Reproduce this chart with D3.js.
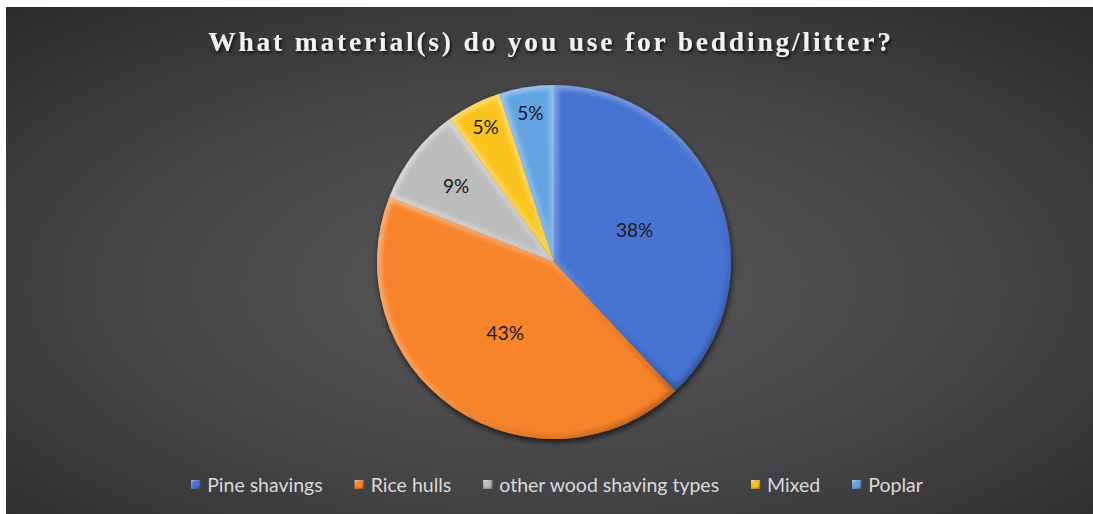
<!DOCTYPE html>
<html>
<head>
<meta charset="utf-8">
<script src="https://cdn.jsdelivr.net/npm/d3@7"></script>
<style>
  html, body { margin: 0; padding: 0; background: #ffffff; }
  svg { display: block; }
</style>
</head>
<body>
<svg id="chart" width="1093" height="514"></svg>
<script>
// Survey answers: share of respondents per bedding material (percent)
const categories = ["Pine shavings", "Rice hulls", "other wood shaving types", "Mixed", "Poplar"];
const shares = [38, 43, 9, 5, 5];
const sliceColors = ["#4673d3", "#f7832a", "#bcbcbc", "#f9c41a", "#62a3e2"];
const titleText = "What material(s) do you use for bedding/litter?";

const W = 1093, H = 514;
const svg = d3.select("#chart");
const defs = svg.append("defs");

// Panel background: dark radial gradient
const bg = defs.append("radialGradient").attr("id", "bgGrad")
  .attr("cx", "50%").attr("cy", "55%").attr("r", "75%");
bg.append("stop").attr("offset", "0%").attr("stop-color", "#59595b");
bg.append("stop").attr("offset", "55%").attr("stop-color", "#444446");
bg.append("stop").attr("offset", "100%").attr("stop-color", "#2a2a2d");

const panel = { x: 6, y: 7, w: W - 6, h: H - 7 };
svg.append("rect").attr("x", panel.x).attr("y", panel.y)
  .attr("width", panel.w).attr("height", panel.h).attr("fill", "url(#bgGrad)");

// Soft blur for the bevel edge strokes
defs.append("filter").attr("id", "edgeBlur")
  .attr("x", "-10%").attr("y", "-10%").attr("width", "120%").attr("height", "120%")
  .append("feGaussianBlur").attr("stdDeviation", 2.2);

// Soft drop shadow beneath the pie
const sh = defs.append("filter").attr("id", "pieShadow")
  .attr("x", "-20%").attr("y", "-20%").attr("width", "140%").attr("height", "140%");
sh.append("feGaussianBlur").attr("in", "SourceAlpha").attr("stdDeviation", 3).attr("result", "b");
sh.append("feOffset").attr("in", "b").attr("dx", 1).attr("dy", 3).attr("result", "o");
sh.append("feComponentTransfer").attr("in", "o").attr("result", "s")
  .append("feFuncA").attr("type", "linear").attr("slope", 0.7);
const shm = sh.append("feMerge");
shm.append("feMergeNode").attr("in", "s");
shm.append("feMergeNode").attr("in", "SourceGraphic");

// Title drop shadow
const tsh = defs.append("filter").attr("id", "titleShadow")
  .attr("x", "-5%").attr("y", "-40%").attr("width", "110%").attr("height", "180%");
tsh.append("feDropShadow").attr("dx", 1.5).attr("dy", 2).attr("stdDeviation", 1.4)
  .attr("flood-color", "#000").attr("flood-opacity", 0.75);

// Title
svg.append("text")
  .attr("x", 551).attr("y", 51)
  .attr("text-anchor", "middle")
  .attr("font-family", "'Liberation Serif', 'Times New Roman', serif")
  .attr("font-weight", "bold")
  .attr("font-size", 27.5)
  .attr("letter-spacing", 2.8)
  .attr("fill", "#f2f2f2")
  .attr("filter", "url(#titleShadow)")
  .text(titleText);

// Pie
const cx = 554, cy = 262, R = 177;
const color = d3.scaleOrdinal().domain(categories).range(sliceColors);
const pie = d3.pie().sort(null).value(d => d.value);
const data = categories.map((c, i) => ({ name: c, value: shares[i] }));
const arcs = pie(data);
const arc = d3.arc().innerRadius(0).outerRadius(R);

// Edge lighting: light from upper-left, shade toward lower-right
const eg = defs.append("linearGradient").attr("id", "edgeGrad")
  .attr("gradientUnits", "userSpaceOnUse")
  .attr("x1", -R).attr("y1", -R).attr("x2", R).attr("y2", R);
eg.append("stop").attr("offset", "0%").attr("stop-color", "#ffffff").attr("stop-opacity", 0.45);
eg.append("stop").attr("offset", "50%").attr("stop-color", "#ffffff").attr("stop-opacity", 0.18);
eg.append("stop").attr("offset", "75%").attr("stop-color", "#000000").attr("stop-opacity", 0.08);
eg.append("stop").attr("offset", "100%").attr("stop-color", "#000000").attr("stop-opacity", 0.45);

const pieG = svg.append("g").attr("transform", `translate(${cx},${cy})`);
const shadowG = pieG.append("g").attr("filter", "url(#pieShadow)");
const sliceG = shadowG.selectAll("g.slice")
  .data(arcs)
  .join("g")
  .attr("class", "slice");

sliceG.append("clipPath")
  .attr("id", (d, i) => "clip" + i)
  .append("path").attr("d", arc);
sliceG.append("path")
  .attr("d", arc)
  .attr("fill", d => color(d.data.name));
sliceG.append("path")
  .attr("d", arc)
  .attr("fill", "none")
  .attr("stroke", "url(#edgeGrad)")
  .attr("stroke-width", 9)
  .attr("stroke-linejoin", "round")
  .attr("clip-path", (d, i) => `url(#clip${i})`)
  .attr("filter", "url(#edgeBlur)");

// Data labels: large slices near the middle, thin slices pushed outward
const labelPos = d => {
  const span = d.endAngle - d.startAngle;
  const k = Math.max(0.49, 1.04 - 0.6 * span);
  const a = (d.startAngle + d.endAngle) / 2;
  return [Math.sin(a) * R * k, -Math.cos(a) * R * k];
};
pieG.selectAll("text.lbl")
  .data(arcs)
  .join("text")
  .attr("class", "lbl")
  .attr("transform", d => `translate(${labelPos(d)})`)
  .attr("text-anchor", "middle")
  .attr("dy", "0.35em")
  .attr("font-family", "Lato, 'Open Sans', sans-serif")
  .attr("font-size", 19)
  .attr("fill", "#1a1a1a")
  .text(d => d3.format(".0%")(d.data.value / d3.sum(shares)));

// Legend along the bottom, centred
const kg = defs.append("linearGradient").attr("id", "keyGrad")
  .attr("x1", 0).attr("y1", 0).attr("x2", 1).attr("y2", 1);
kg.append("stop").attr("offset", "0%").attr("stop-color", "#ffffff").attr("stop-opacity", 0.45);
kg.append("stop").attr("offset", "100%").attr("stop-color", "#000000").attr("stop-opacity", 0.35);

const legend = svg.append("g").attr("transform", "translate(0,485)");
const items = legend.selectAll("g.item")
  .data(categories)
  .join("g")
  .attr("class", "item");
items.append("rect")
  .attr("x", 0).attr("y", -5).attr("width", 9).attr("height", 9)
  .attr("fill", d => color(d));
items.append("rect")
  .attr("x", 0.75).attr("y", -4.25).attr("width", 7.5).attr("height", 7.5)
  .attr("fill", "none")
  .attr("stroke", "url(#keyGrad)")
  .attr("stroke-width", 1.5);
items.append("text")
  .attr("x", 16).attr("dy", "0.35em")
  .attr("font-family", "Lato, 'Open Sans', sans-serif")
  .attr("font-size", 19.5)
  .attr("fill", "#d9d9d9")
  .text(d => d);
const widths = [];
items.each(function () { widths.push(16 + d3.select(this).select("text").node().getComputedTextLength()); });
const gap = 32;
const total = d3.sum(widths) + gap * (widths.length - 1);
let xPos = 557 - total / 2;
items.attr("transform", (d, i) => {
  const t = `translate(${xPos},0)`;
  xPos += widths[i] + gap;
  return t;
});
</script>
</body>
</html>
